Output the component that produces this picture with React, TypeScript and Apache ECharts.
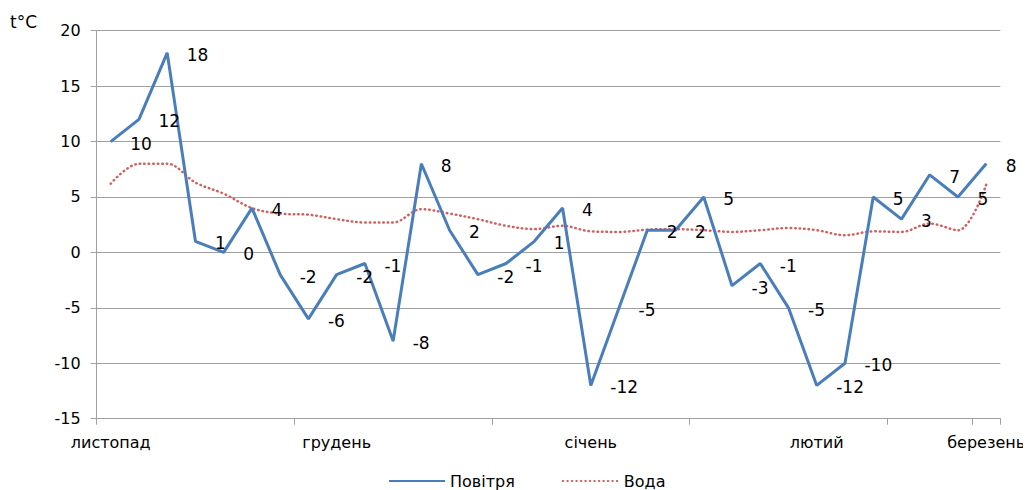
import React, { useEffect, useRef } from "react";
import * as echarts from "echarts";

// One point per observation, November through early March
const categories: string[] = [
  "1", "2", "3", "4", "5", "6", "7", "8", "9", "10", "11", "12", "13", "14", "15", "16",
  "17", "18", "19", "20", "21", "22", "23", "24", "25", "26", "27", "28", "29", "30", "31", "32",
];

// Month names shown under the axis (empty where no month starts)
const monthLabels: string[] = [
  "листопад", "", "", "", "", "", "", "", "грудень", "", "", "", "", "", "", "",
  "", "січень", "", "", "", "", "", "", "", "лютий", "", "", "", "", "", "березень",
];

// Air temperature, °C
const airTemp: number[] = [
  10, 12, 18, 1, 0, 4, -2, -6, -2, -1, -8, 8, 2, -2, -1, 1,
  4, -12, -5, 2, 2, 5, -3, -1, -5, -12, -10, 5, 3, 7, 5, 8,
];

// Water temperature, °C
const waterTemp: number[] = [
  6.2, 8, 8, 6.3, 5.3, 4, 3.5, 3.4, 3, 2.7, 2.7, 3.9, 3.5, 3, 2.4, 2.1,
  2.4, 1.9, 1.85, 2.05, 2.1, 2, 1.85, 2, 2.2, 2, 1.55, 1.9, 1.85, 2.6, 2, 6.1,
];

const yTicks = { min: -15, max: 20, step: 5 };

const FONT = "DejaVu Sans";

export default function App() {
  const ref = useRef<HTMLDivElement>(null);

  useEffect(() => {
    if (!ref.current) return;
    const chart = echarts.init(ref.current, undefined, { renderer: "svg" });
    chart.setOption({
      animation: false,
      backgroundColor: "#ffffff",
      textStyle: { fontFamily: FONT },
      grid: { left: 96.6, right: 30.7, top: 30.7, bottom: 71.3, containLabel: false },
      graphic: [
        {
          type: "text",
          left: 10,
          top: 13,
          style: { text: "t°C", fontSize: 17, fontFamily: FONT, fill: "#000" },
        },
      ],
      legend: {
        top: 468,
        left: 383,
        itemWidth: 56,
        itemHeight: 14,
        itemGap: 47,
        itemStyle: { opacity: 0 },
        textStyle: { fontSize: 16, color: "#000", fontFamily: FONT },
        data: ["Повітря", "Вода"],
      },
      xAxis: {
        type: "category",
        data: categories,
        boundaryGap: true,
        axisLine: { onZero: false, lineStyle: { color: "#a0a0a0", width: 1 } },
        axisTick: { show: true, interval: 6, length: 6, lineStyle: { color: "#a0a0a0" } },
        axisLabel: {
          interval: 0,
          margin: 16,
          fontSize: 16,
          color: "#000",
          fontFamily: FONT,
          formatter: (_v: string, i: number) => monthLabels[i],
        },
        splitLine: { show: false },
      },
      yAxis: {
        type: "value",
        min: yTicks.min,
        max: yTicks.max,
        interval: yTicks.step,
        axisLine: { show: true, lineStyle: { color: "#a0a0a0", width: 1 } },
        axisTick: { show: true, length: 6, lineStyle: { color: "#a0a0a0" } },
        axisLabel: { margin: 16, fontSize: 16, color: "#000", fontFamily: FONT },
        splitLine: { show: true, lineStyle: { color: "#a0a0a0", width: 1 } },
      },
      series: [
        {
          name: "Повітря",
          type: "line",
          data: airTemp,
          symbol: "circle",
          symbolSize: 1,
          showSymbol: true,
          itemStyle: { color: "#4a7ebb" },
          lineStyle: { color: "#4a7ebb", width: 3 },
          label: {
            show: true,
            position: "right",
            distance: 19,
            offset: [0, 2],
            fontSize: 17,
            color: "#000",
            fontFamily: FONT,
          },
          z: 3,
        },
        {
          name: "Вода",
          type: "line",
          data: waterTemp,
          smooth: 0.35,
          showSymbol: false,
          symbol: "circle",
          symbolSize: 1,
          itemStyle: { color: "#c0504d" },
          lineStyle: { color: "#d0605c", width: 2.5, type: [0.5, 4], cap: "round" },
          z: 2,
        },
      ],
    });
    return () => chart.dispose();
  }, []);

  return <div ref={ref} style={{ width: 1031, height: 490, marginLeft: -8, marginTop: -8 }} />;
}
